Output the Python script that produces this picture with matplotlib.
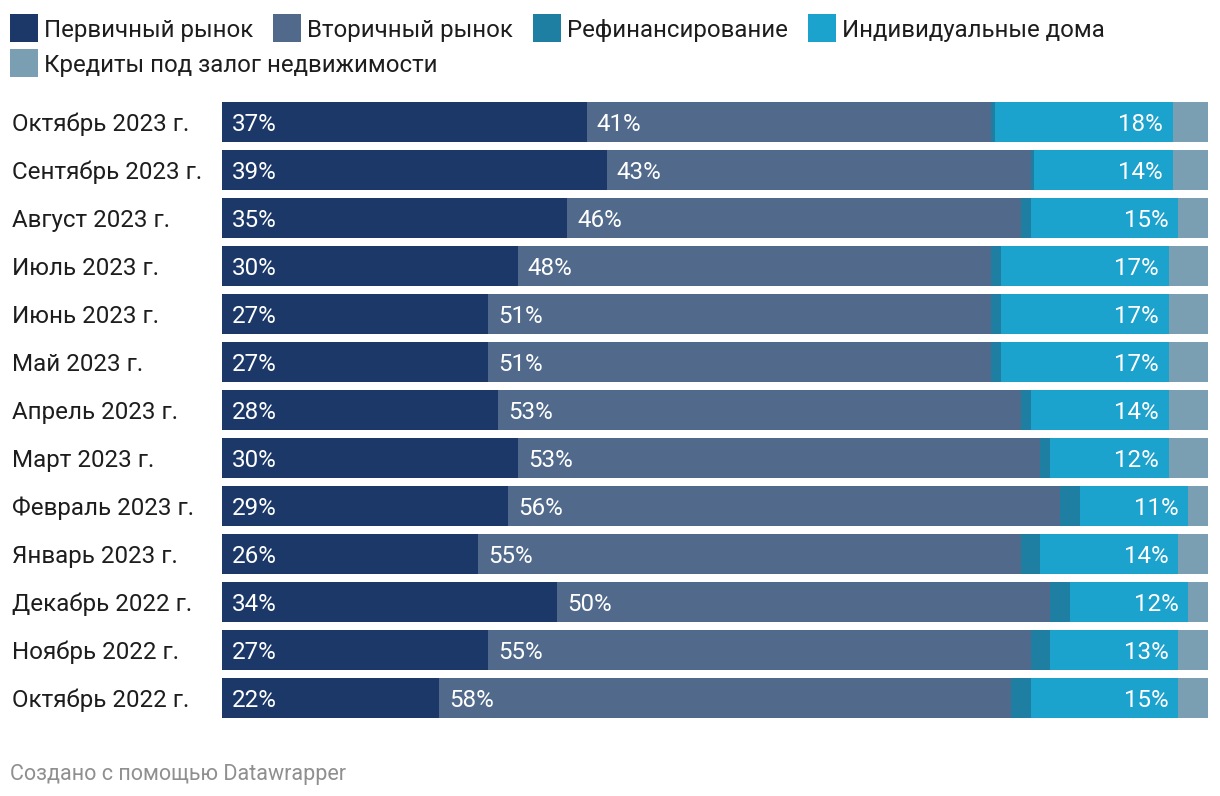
import numpy as np
import matplotlib
matplotlib.use("Agg")
import matplotlib.pyplot as plt
from matplotlib.patches import Rectangle

plt.rcParams["font.family"] = ["Roboto", "DejaVu Sans"]

# ────────────────────────────────────────────────────────────────────────
# Data (shares of mortgage issuance, %), top row first
# ────────────────────────────────────────────────────────────────────────

months = ["Октябрь 2023 г.", "Сентябрь 2023 г.", "Август 2023 г.", "Июль 2023 г.",
          "Июнь 2023 г.", "Май 2023 г.", "Апрель 2023 г.", "Март 2023 г.",
          "Февраль 2023 г.", "Январь 2023 г.", "Декабрь 2022 г.", "Ноябрь 2022 г.",
          "Октябрь 2022 г."]
primary = [37, 39, 35, 30, 27, 27, 28, 30, 29, 26, 34, 27, 22]
secondary = [41, 43, 46, 48, 51, 51, 53, 53, 56, 55, 50, 55, 58]
refinancing = [0.4, 0.4, 1, 1, 1, 1, 1, 1, 2, 2, 2, 2, 2]
houses = [18, 14, 15, 17, 17, 17, 14, 12, 11, 14, 12, 13, 15]
secured = [3.6, 3.6, 3, 4, 4, 4, 4, 4, 2, 3, 2, 3, 3]

series_names = ["Первичный рынок", "Вторичный рынок", "Рефинансирование",
                "Индивидуальные дома", "Кредиты под залог недвижимости"]
colors = ["#1b3868", "#516a8c", "#1e7fa2", "#1ba2cd", "#7a9fb3"]

W, H = 1220, 796
fig = plt.figure(figsize=(W / 100, H / 100), dpi=100)
fig.patch.set_facecolor("white")

# axes placed in pixel terms: bars span x 222..1208, y 102..718
ax = fig.add_axes([222 / W, (H - 718) / H, (1208 - 222) / W, (718 - 102) / H])

n = len(months)
y = np.arange(n)
bar_h = 40 / 48
series = [primary, secondary, refinancing, houses, secured]
left = np.zeros(n)
for vals, col in zip(series, colors):
    ax.barh(y, vals, left=left, height=bar_h, color=col, linewidth=0)
    left += np.array(vals, dtype=float)

ax.set_xlim(0, left.max())
ax.set_ylim(n - 1 + bar_h / 2, -bar_h / 2)
ax.axis("off")

FS = 17.4
for i in range(n):
    ax.annotate(f"{primary[i]}%", (0, i), xytext=(10, 0), textcoords="offset pixels",
                ha="left", va="center_baseline", color="white", fontsize=FS)
    ax.annotate(f"{secondary[i]}%", (primary[i], i), xytext=(10, 0), textcoords="offset pixels",
                ha="left", va="center_baseline", color="white", fontsize=FS)
    end_h = primary[i] + secondary[i] + refinancing[i] + houses[i]
    ax.annotate(f"{houses[i]}%", (end_h, i), xytext=(-10, 0), textcoords="offset pixels",
                ha="right", va="center_baseline", color="white", fontsize=FS)
    # category label at the left edge of the figure
    ax.annotate(months[i], (0, i), xycoords=("figure pixels", "data"),
                xytext=(12, 0), textcoords="offset pixels",
                ha="left", va="center_baseline", color="#1d1d1d", fontsize=FS)

# ────────────────────────────────────────────────────────────────────────
# Legend, laid out by hand in pixel space
# ────────────────────────────────────────────────────────────────────────
renderer = fig.canvas.get_renderer()
rows_y = [28, 63]
sq = 28
x = 10
row = 0
for name, col in zip(series_names, colors):
    t = fig.text(0, 0, name, fontsize=17.3, color="#1d1d1d", va="center_baseline")
    tw = t.get_window_extent(renderer).width
    if x + sq + 6 + tw > W - 10:
        row += 1
        x = 10
    cy = H - rows_y[row]
    fig.patches.append(Rectangle((x / W, (cy - sq / 2) / H), sq / W, sq / H,
                                 transform=fig.transFigure, color=col, linewidth=0))
    t.set_position(((x + sq + 6) / W, cy / H))
    x += sq + 6 + tw + 20

fig.text(10 / W, (H - 772) / H, "Создано с помощью Datawrapper",
         fontsize=15.5, color="#8f8f8f", va="center_baseline", ha="left")

fig.savefig("out.png", dpi=100, facecolor="white")
